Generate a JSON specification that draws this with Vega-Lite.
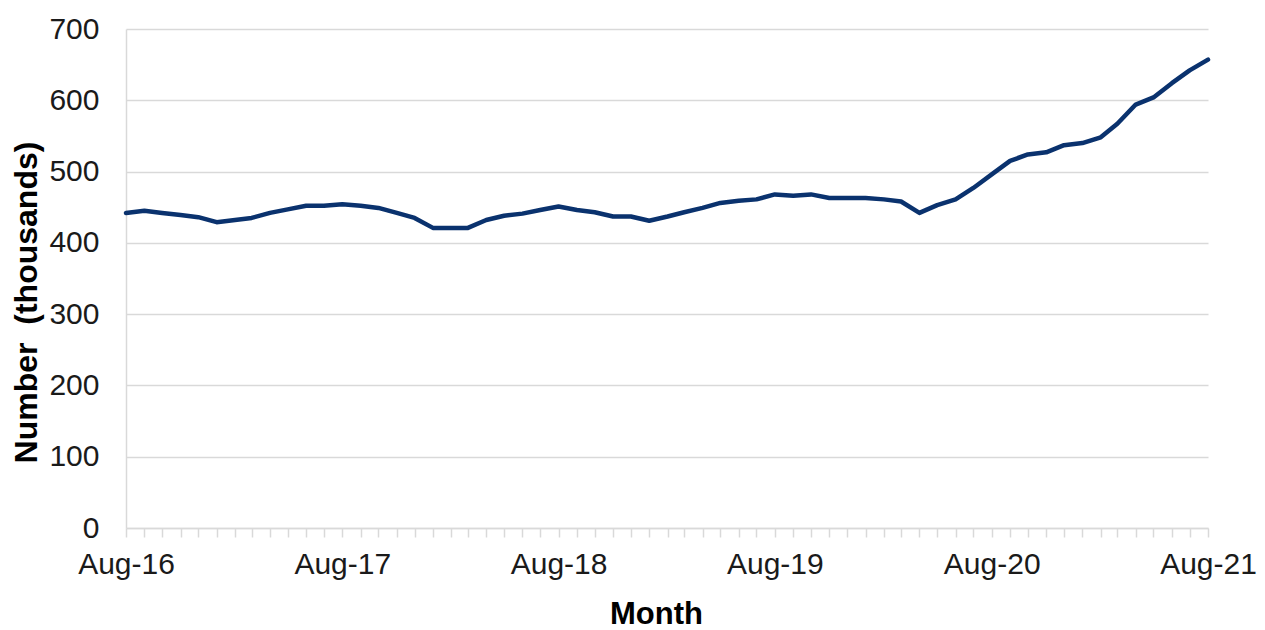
{
  "$schema": "https://vega.github.io/schema/vega-lite/v6.json",
  "width": 1082,
  "height": 499,
  "autosize": {"type": "none"},
  "padding": {"left": 126, "top": 29, "right": 57, "bottom": 102},
  "background": "white",
  "config": {
    "view": {"stroke": null},
    "font": "Liberation Sans"
  },
  "data": {
    "values": [
      {"month": "2016-08-01", "value": 442},
      {"month": "2016-09-01", "value": 445},
      {"month": "2016-10-01", "value": 442},
      {"month": "2016-11-01", "value": 439},
      {"month": "2016-12-01", "value": 436},
      {"month": "2017-01-01", "value": 429},
      {"month": "2017-02-01", "value": 432},
      {"month": "2017-03-01", "value": 435},
      {"month": "2017-04-01", "value": 442},
      {"month": "2017-05-01", "value": 447},
      {"month": "2017-06-01", "value": 452},
      {"month": "2017-07-01", "value": 452},
      {"month": "2017-08-01", "value": 454},
      {"month": "2017-09-01", "value": 452},
      {"month": "2017-10-01", "value": 449},
      {"month": "2017-11-01", "value": 442},
      {"month": "2017-12-01", "value": 435},
      {"month": "2018-01-01", "value": 421},
      {"month": "2018-02-01", "value": 421},
      {"month": "2018-03-01", "value": 421},
      {"month": "2018-04-01", "value": 432},
      {"month": "2018-05-01", "value": 438},
      {"month": "2018-06-01", "value": 441},
      {"month": "2018-07-01", "value": 446},
      {"month": "2018-08-01", "value": 451},
      {"month": "2018-09-01", "value": 446},
      {"month": "2018-10-01", "value": 443},
      {"month": "2018-11-01", "value": 437},
      {"month": "2018-12-01", "value": 437},
      {"month": "2019-01-01", "value": 431},
      {"month": "2019-02-01", "value": 437},
      {"month": "2019-03-01", "value": 443},
      {"month": "2019-04-01", "value": 449},
      {"month": "2019-05-01", "value": 456},
      {"month": "2019-06-01", "value": 459},
      {"month": "2019-07-01", "value": 461},
      {"month": "2019-08-01", "value": 468},
      {"month": "2019-09-01", "value": 466},
      {"month": "2019-10-01", "value": 468},
      {"month": "2019-11-01", "value": 463},
      {"month": "2019-12-01", "value": 463},
      {"month": "2020-01-01", "value": 463},
      {"month": "2020-02-01", "value": 461},
      {"month": "2020-03-01", "value": 458},
      {"month": "2020-04-01", "value": 442},
      {"month": "2020-05-01", "value": 453},
      {"month": "2020-06-01", "value": 461},
      {"month": "2020-07-01", "value": 477},
      {"month": "2020-08-01", "value": 496},
      {"month": "2020-09-01", "value": 515},
      {"month": "2020-10-01", "value": 524},
      {"month": "2020-11-01", "value": 527},
      {"month": "2020-12-01", "value": 537},
      {"month": "2021-01-01", "value": 540},
      {"month": "2021-02-01", "value": 548},
      {"month": "2021-03-01", "value": 567},
      {"month": "2021-04-01", "value": 594},
      {"month": "2021-05-01", "value": 604},
      {"month": "2021-06-01", "value": 624},
      {"month": "2021-07-01", "value": 642},
      {"month": "2021-08-01", "value": 657}
    ]
  },
  "mark": {"type": "line", "color": "#0a326e", "strokeWidth": 4.5, "strokeJoin": "round", "strokeCap": "round"},
  "encoding": {
    "x": {
      "field": "month",
      "type": "temporal",
      "scale": {"type": "utc", "domain": ["2016-08-01", "2021-08-01"], "nice": false},
      "axis": {
        "title": "Month",
        "titleFont": "Liberation Sans",
        "titleFontSize": 31,
        "titleFontWeight": "bold",
        "titleColor": "#000000",
        "titleX": 530,
        "titleY": 95,
        "titleBaseline": "alphabetic",
        "titleAlign": "center",
        "grid": false,
        "domainColor": "#d9d9d9",
        "domainWidth": 1.5,
        "ticks": true,
        "tickColor": "#d9d9d9",
        "tickWidth": 1.5,
        "tickSize": 9,
        "tickCount": {"interval": "month", "step": 1},
        "labelExpr": "utcmonth(datum.value) == 7 ? utcFormat(datum.value, '%b-%y') : ''",
        "labelOverlap": false,
        "labelFlush": false,
        "labelBound": false,
        "labelFont": "Liberation Sans",
        "labelFontSize": 30,
        "labelColor": "#1a1a1a",
        "labelBaseline": "alphabetic",
        "labelPadding": 36
      }
    },
    "y": {
      "field": "value",
      "type": "quantitative",
      "scale": {"domain": [0, 700], "nice": false, "zero": true},
      "axis": {
        "title": "Number\u00a0 (thousands)",
        "titleFont": "Liberation Sans",
        "titleFontSize": 32,
        "titleFontWeight": "bold",
        "titleColor": "#000000",
        "titleAngle": -90,
        "titleX": -90,
        "titleY": 273,
        "titleBaseline": "alphabetic",
        "titleAlign": "center",
        "values": [0, 100, 200, 300, 400, 500, 600, 700],
        "grid": true,
        "gridColor": "#d9d9d9",
        "gridWidth": 1.5,
        "domainColor": "#d9d9d9",
        "domainWidth": 1.5,
        "ticks": false,
        "labelFont": "Liberation Sans",
        "labelFontSize": 30,
        "labelColor": "#1a1a1a",
        "labelPadding": 27
      }
    }
  }
}
